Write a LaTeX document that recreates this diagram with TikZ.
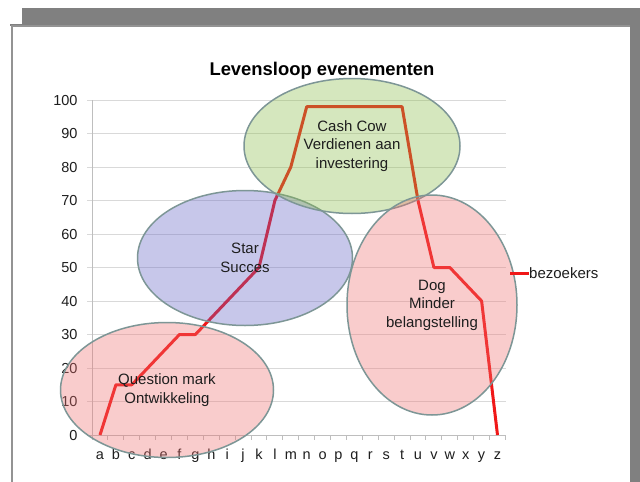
\documentclass[tikz,border=0pt]{standalone}
\usepackage{fontspec}
\setmainfont{Liberation Sans}
\usetikzlibrary{shapes.geometric}

\definecolor{framegray}{RGB}{128,128,128}
\definecolor{gridgray}{RGB}{217,217,217}
\definecolor{axisgray}{RGB}{190,190,190}
\definecolor{edgegray}{RGB}{125,150,150}
\definecolor{linered}{RGB}{240,24,24}
\definecolor{qmarkfill}{RGB}{240,111,111}
\definecolor{starfill}{RGB}{97,97,197}
\definecolor{cowfill}{RGB}{137,189,69}
\definecolor{dogfill}{RGB}{240,111,111}
\definecolor{inkgray}{RGB}{30,30,30}

\begin{document}
\begin{tikzpicture}[x=1pt,y=-1pt,
    every node/.style={text=inkgray,font=\fontsize{15}{18.5}\selectfont},
    phase/.style={ellipse,draw=edgegray,line width=1.5pt,fill opacity=.35,text opacity=1,inner sep=0pt,align=center},
    gridline/.style={draw=gridgray,line width=1pt},
    axisline/.style={draw=axisgray,line width=1pt},
    dataline/.style={draw=linered,line width=3pt,line join=round},
    ticklabel/.style={font=\fontsize{14.5}{17}\selectfont}]
        \useasboundingbox (0,0) rectangle (640,482);
        \fill[white] (0,0) rectangle (640,482);

        % page frame
        \fill[framegray] (22,8) rectangle (640,26);
        \fill[framegray] (10,24) rectangle (22,26);
        \fill[framegray] (630,8) rectangle (640,482);
        \fill[white] (12,26) rectangle (630,482);
        \draw[framegray!85,line width=1.5pt] (12,482) -- (12,26) -- (630,26);

        \foreach[evaluate={435-3.35*\v} as \y] \v in {10,20,...,100} {
          \draw[gridline] (87,\y) -- (506,\y);
        }
        \foreach[evaluate={435-3.35*\v} as \y] \v in {0,10,...,100} {
          \node[ticklabel,anchor=base east] (y\v) at (81,\y+5.2) {\v};
        }
        \draw[axisline] (92,100) -- (92,435) -- (506,435);
        \draw[axisline] (87,435) -- (92,435);
        \foreach[evaluate={92+15.9*\k} as \x] \k in {0,...,26} {
          \draw[axisline] (\x,435) -- ++(0,5);
        }
        \foreach[count=\i from 0,evaluate={100+15.9*\i} as \x] \c in {a,...,z} {
          \node[ticklabel,anchor=base] (x\c) at (\x,459) {\c};
        }

        % bezoekers
        \foreach[count=\i from 0,evaluate={100+15.9*\i} as \x,evaluate={435-3.35*\v} as \y] \v in {0,15,15,20,25,30,30,35,40,45,50,70,80,98,98,98,98,98,98,98,70,50,50,45,40,0} {
          \coordinate (p\i) at (\x,\y);
        }
        \draw[dataline] (p0) \foreach \i in {1,...,25} { -- (p\i) };

        \node[phase,fill=qmarkfill,minimum width=213pt,minimum height=135pt] (qmark) at (167,390) {Question mark\\Ontwikkeling};
        \node[phase,fill=starfill,minimum width=215pt,minimum height=135pt] (star) at (245,258) {Star\\Succes};
        \node[phase,fill=cowfill,minimum width=216pt,minimum height=135pt] (cow) at (352,146) {Cash Cow\\Verdienen aan\\investering};
        \node[phase,fill=dogfill,minimum width=170pt,minimum height=220pt] (dog) at (432,305) {Dog\\Minder\\belangstelling};

        \coordinate (leg) at (510,273);
        \node[anchor=west,inner sep=0pt] (bez) at (529,273) {bezoekers};
        \draw[dataline] (leg) -- (bez.west);

        \node[font=\bfseries\fontsize{18.4}{22}\selectfont,text=black] (title) at (322,71) {Levensloop evenementen};
      \end{tikzpicture}
\end{document}
